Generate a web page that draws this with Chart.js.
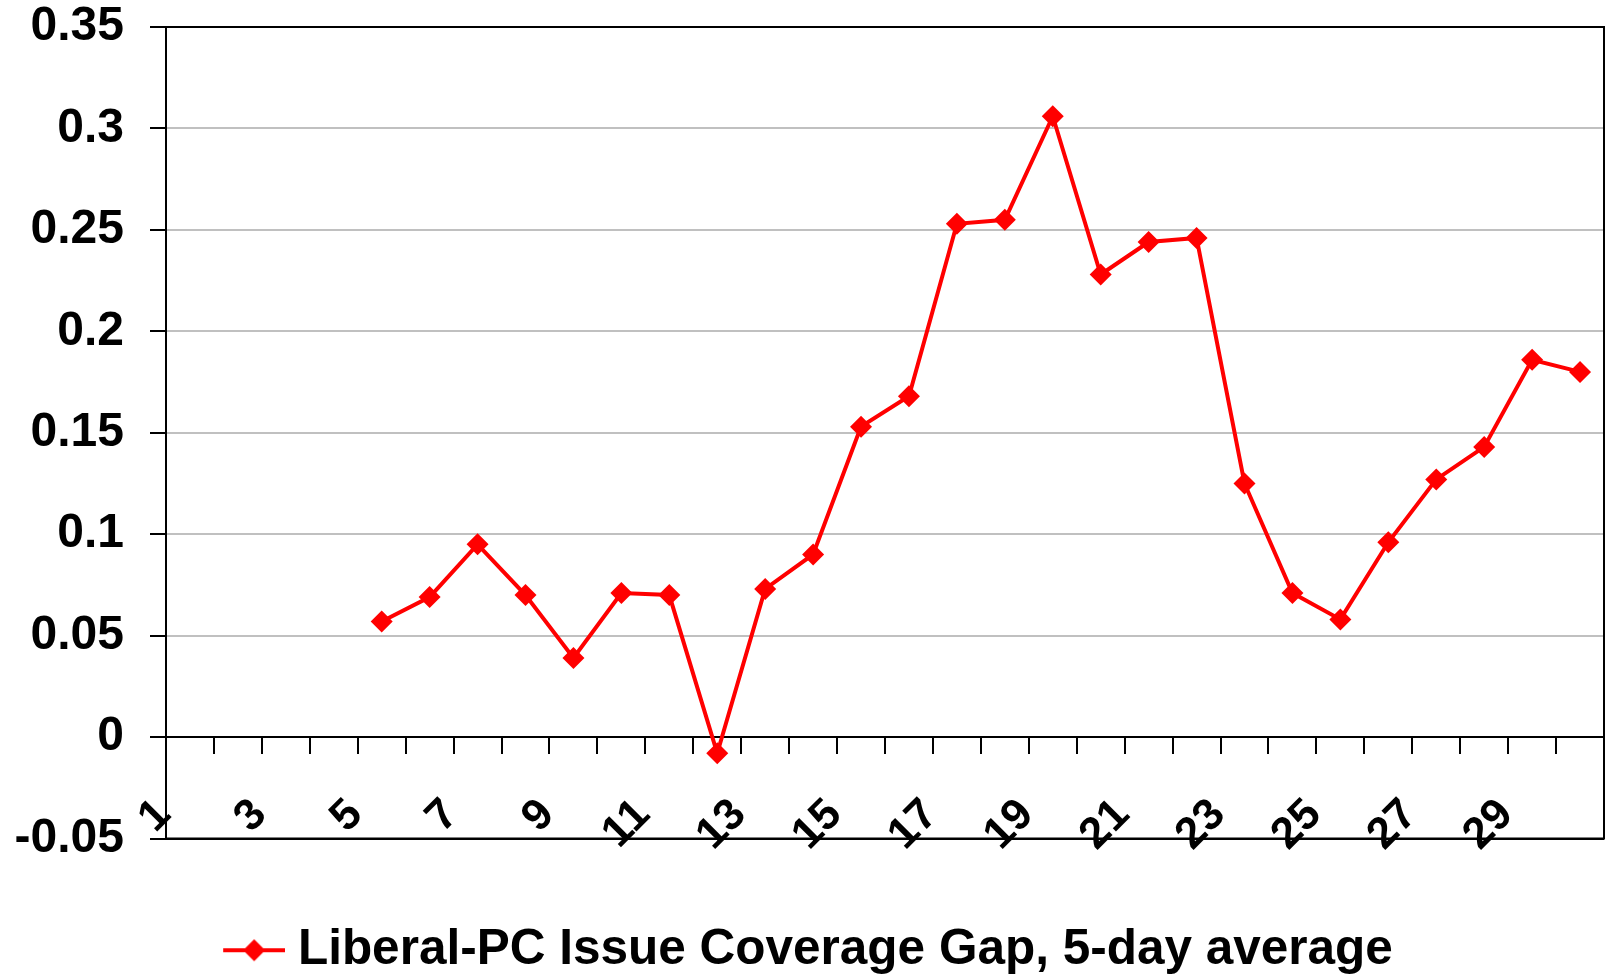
<!DOCTYPE html>
<html>
<head>
<meta charset="utf-8">
<script src="https://cdn.jsdelivr.net/npm/chart.js@4/dist/chart.umd.min.js"></script>
<style>
  html, body { margin: 0; padding: 0; background: #fff; }
  #wrap { width: 1606px; height: 978px; }
</style>
</head>
<body>
<div id="wrap"><canvas id="gapChart" width="1606" height="978"></canvas></div>
<script>
// days of the campaign
const days = ["1","2","3","4","5","6","7","8","9","10","11","12","13","14","15",
              "16","17","18","19","20","21","22","23","24","25","26","27","28","29","30"];
// 5-day average gap (no value for the first four days)
const gapValues = [null, null, null, null, 0.057, 0.069, 0.095, 0.070, 0.039, 0.071,
                   0.070, -0.008, 0.073, 0.090, 0.153, 0.168, 0.253, 0.255, 0.306, 0.228,
                   0.244, 0.246, 0.125, 0.071, 0.058, 0.096, 0.127, 0.143, 0.186, 0.180];
const yTicks = [-0.05, 0, 0.05, 0.1, 0.15, 0.2, 0.25, 0.3, 0.35];
const seriesName = "Liberal-PC Issue Coverage Gap, 5-day average";

const FONT = "'Liberation Sans', Arial, Helvetica, sans-serif";
const RED = "#ff0000";

// legend marker: line with a diamond on it (drawn in the right part so it sits close to the text)
function legendMarker() {
    const c = document.createElement("canvas");
    c.width = 86; c.height = 24;
    const g = c.getContext("2d");
    g.strokeStyle = RED;
    g.lineWidth = 4;
    g.beginPath();
    g.moveTo(24, 12); g.lineTo(86, 12);
    g.stroke();
    g.fillStyle = RED;
    g.beginPath();
    g.moveTo(55, 1); g.lineTo(66, 12); g.lineTo(55, 23); g.lineTo(44, 12);
    g.closePath();
    g.fill();
    return c;
}

// frame around the plot area
const frame = {
    id: "frame",
    afterDraw(chart) {
        const a = chart.chartArea, ctx = chart.ctx;
        ctx.save();
        ctx.strokeStyle = "#000";
        ctx.lineWidth = 2;
        ctx.strokeRect(a.left, a.top, a.right - a.left, a.bottom - a.top);
        ctx.restore();
    }
};

function noPad(s) {
    s.paddingLeft = 0; s.paddingRight = 0; s.paddingTop = 0; s.paddingBottom = 0;
}

const ctx = document.getElementById("gapChart").getContext("2d");
new Chart(ctx, {
    type: "line",
    data: {
        labels: days,
        datasets: [{
            label: seriesName,
            data: gapValues,
            borderColor: RED,
            backgroundColor: RED,
            borderWidth: 4,
            pointStyle: "rectRot",
            pointRadius: 11,
            pointHoverRadius: 11,
            pointBackgroundColor: RED,
            pointBorderColor: RED,
            pointBorderWidth: 0,
            tension: 0,
            spanGaps: false
        }]
    },
    options: {
        responsive: false,
        animation: false,
        layout: { autoPadding: false, padding: { top: 27, right: 2, left: 0, bottom: -7 } },
        scales: {
            y: {
                min: -0.05,
                max: 0.35,
                afterFit: s => { s.width = 166; noPad(s); },
                afterBuildTicks: s => { s.ticks = yTicks.map(v => ({ value: v })); },
                ticks: {
                    padding: 26,
                    color: "#000",
                    font: { family: FONT, size: 48, weight: "bold" },
                    callback: v => String(parseFloat(Number(v).toFixed(2)))
                },
                grid: {
                    color: c => (c.tick && (c.tick.value === 0 || c.tick.value === 0.35 || c.tick.value === -0.05)) ? "#000" : "#c0c0c0",
                    lineWidth: 2,
                    tickColor: "#000",
                    tickLength: 16
                },
                border: { color: "#000", width: 2 }
            },
            x: {
                position: { y: 0 },
                offset: true,
                afterFit: noPad,
                ticks: {
                    autoSkip: false,
                    maxRotation: 45,
                    minRotation: 45,
                    padding: 36,
                    labelOffset: -26,
                    color: "#000",
                    font: { family: FONT, size: 44, weight: "bold" },
                    callback: (v, i) => (i % 2 === 0 ? days[i] : "")
                },
                grid: {
                    offset: true,
                    drawOnChartArea: false,
                    drawTicks: true,
                    tickLength: 16,
                    tickColor: "#000",
                    lineWidth: 2
                },
                border: { color: "#000", width: 2 }
            },
            // empty band between the plot and the legend
            gap: {
                type: "category",
                axis: "x",
                position: "bottom",
                afterFit: s => { s.height = 78; noPad(s); },
                ticks: { display: false },
                grid: { display: false },
                border: { display: false }
            }
        },
        plugins: {
            legend: {
                position: "bottom",
                labels: {
                    usePointStyle: true,
                    pointStyle: legendMarker(),
                    pointStyleWidth: 62,
                    color: "#000",
                    padding: 9,
                    font: { family: FONT, size: 49.5, weight: "bold" }
                }
            },
            tooltip: { enabled: false }
        }
    },
    plugins: [frame]
});
</script>
</body>
</html>
